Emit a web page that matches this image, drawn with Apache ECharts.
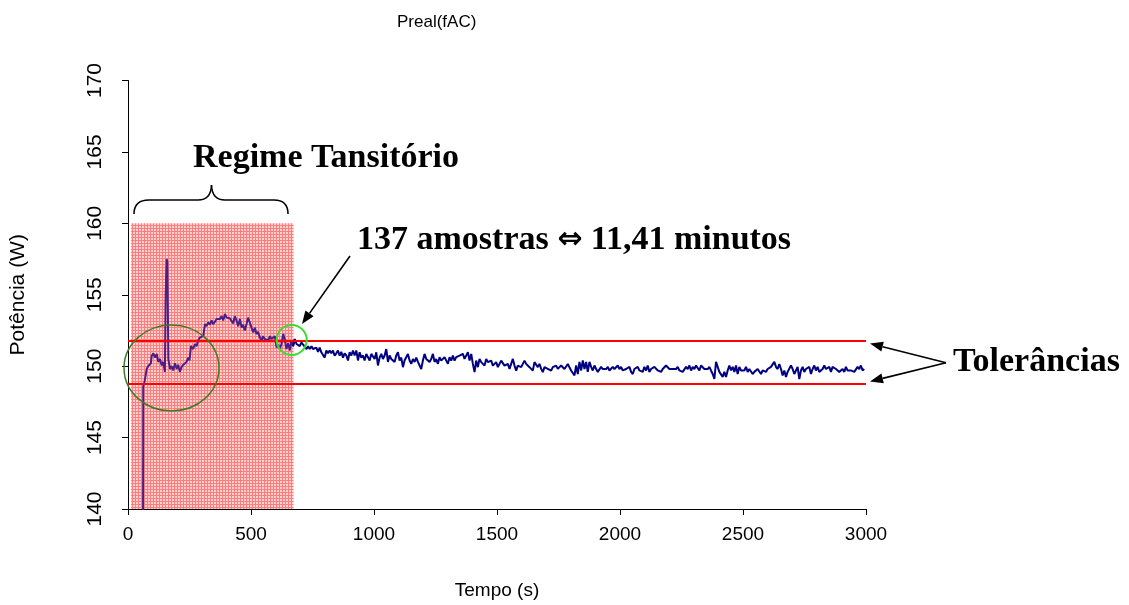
<!DOCTYPE html>
<html>
<head>
<meta charset="utf-8">
<title>Preal(fAC)</title>
<script src="https://cdn.jsdelivr.net/npm/echarts@6/dist/echarts.min.js"></script>
<style>
  html, body { margin: 0; background: #fff; }
  #main { width: 1129px; height: 605px; }
</style>
</head>
<body>
<div id="main"></div>
<script>
// eixos
const xTicks = [0, 500, 1000, 1500, 2000, 2500, 3000]
const yTicks = [140, 145, 150, 155, 160, 165, 170]

// regime transitorio (tempo em s, potencia em W)
const tempoTransitorio = [61, 62, 66, 72, 76, 82, 93, 96, 103, 110, 117, 123, 130, 137, 143, 150, 153, 157, 160, 164,
  171, 177, 184, 191, 198, 204, 211, 218, 225, 231, 238, 245, 250, 256, 265, 272, 279, 285, 292, 299,
  306, 313, 319, 326, 333, 340, 346, 353, 360, 367, 374, 380, 387, 394, 401, 407, 414, 421, 428, 434,
  441, 448, 455, 462, 468, 475, 482, 488, 495, 502, 509, 516, 522, 529, 536, 543, 549, 556, 563, 570,
  577, 583, 590, 597, 604, 610, 617, 624, 631, 637, 644, 651, 658, 664, 671, 678, 685, 691, 698, 705,
  712, 719, 726, 732, 739, 746]
const potenciaTransitorio = [138, 148.6, 148.8, 148.9, 149.8, 150.0, 150.2, 150.7, 150.9, 150.6, 150.85, 150.3, 150.5, 150.05, 150.3, 149.6, 154.9, 157.5, 157.3, 150.5,
  149.8, 150.0, 149.7, 150.2, 149.8, 150.1, 149.6, 149.95, 150.1, 150.2, 150.3, 150.6, 150.4, 151.4, 151.2, 151.55, 151.4, 151.8, 152.0, 151.9,
  152.1, 152.95, 152.8, 153.07, 152.9, 153.2, 152.95, 153.1, 153.3, 153.2, 153.3, 153.5, 153.2, 153.65, 153.4, 153.5, 153.35, 153.3, 153.0, 153.5,
  153.2, 152.8, 153.3, 152.7, 152.9, 152.5, 152.95, 153.4, 153.07, 152.7, 152.37, 152.7, 152.25, 152.4, 152.0, 151.8, 152.1, 151.9, 152.0, 151.8,
  152.1, 151.9, 152.0, 152.1, 151.3, 151.5, 151.2, 151.55, 152.25, 151.9, 151.2, 151.6, 151.1, 151.8, 151.4, 151.9, 151.55, 151.55, 151.4, 151.67,
  151.5, 151.55, 151.2, 151.4, 151.2, 151.4]

// regime estavel: amostras igualmente espacadas a partir de 752 s
const inicioEstavel = 752
const passoEstavel = 6.77
const potenciaEstavel = [
  151.2, 151.3, 151.3, 151.0, 151.3, 150.97, 151.1, 150.6, 151.1, 150.9,
  151.1, 150.9, 151.1, 150.74, 150.9, 151.1, 150.74, 151.0, 150.6, 150.9,
  150.75, 150.4, 150.97, 150.75, 151.1, 150.75, 151.1, 150.4, 150.97, 150.6,
  150.75, 150.4, 150.86, 150.97, 150.4, 150.86, 150.75, 150.5, 150.97, 150.05,
  150.6, 150.86, 150.5, 150.75, 151.2, 150.3, 150.75, 150.5, 150.6, 150.3,
  150.75, 150.97, 150.4, 150.6, 149.93, 150.4, 150.5, 150.86, 150.4, 150.16,
  150.5, 150.3, 150.6, 150.3, 150.4, 149.8, 150.4, 150.86, 150.5, 150.6,
  150.3, 150.5, 150.86, 150.3, 150.5, 150.16,
  150.63, 150.39, 150.28, 150.63, 150.51, 150.16, 150.63, 150.39, 150.74, 150.39,
  150.63, 150.51, 150.74, 150.63, 150.86, 150.51, 150.74, 150.97, 150.39, 150.86,
  150.16, 149.58, 150.39, 149.93, 150.51, 150.28, 150.39, 150.04, 150.51, 150.28,
  150.16, 150.39, 150.04, 150.16, 150.28, 149.93, 150.04, 150.39, 150.28, 150.04,
  149.93, 150.16, 149.81, 150.16, 150.51, 150.04, 149.69, 150.04, 150.16, 149.93,
  150.04, 150.39, 150.16, 150.28, 149.93, 150.04, 149.69, 150.28, 150.16, 149.93,
  150.16, 149.81, 149.58, 149.93, 150.04, 149.81, 149.93, 149.69, 149.93, 149.81,
  150.04, 149.81, 149.93,
  150.05, 150.05, 149.8, 149.8, 150.15, 150.15, 149.7, 149.7, 149.35, 150.05,
  149.45, 150.3, 149.7, 150.4, 149.8, 150.3, 149.6, 150.3, 149.95, 149.7,
  150.05, 149.8, 149.6, 149.7, 149.95, 149.8, 149.7, 149.8, 149.95, 149.7,
  149.8, 149.95, 149.8, 149.7, 150.05, 149.8, 149.95, 149.7, 149.6, 149.8,
  149.7, 149.95, 149.6, 149.45, 149.8, 149.7, 149.95, 149.7, 149.8, 149.6,
  149.95, 149.7, 150.05, 149.6, 149.8, 149.7, 149.95, 150.05, 149.7, 149.8,
  149.6, 149.8, 149.7, 150.05, 149.95, 149.8, 149.7, 149.8, 149.7, 149.8,
  149.95, 149.7, 149.8, 149.6, 149.7, 149.95, 149.8, 150.05, 149.7, 149.95,
  149.8, 150.05, 149.95, 149.7, 150.05, 149.95, 149.8, 149.7, 149.8, 149.95,
  149.7, 149.45, 149.1, 150.3, 149.95, 149.6, 149.7, 149.25, 149.6, 149.25,
  149.7, 150.05, 149.7, 149.95, 149.6, 150.05, 149.45, 149.95, 149.7, 149.8,
  149.7, 149.95, 149.6, 149.8, 149.7, 149.45, 149.6, 149.7, 149.8, 149.7,
  149.45, 149.7, 149.8, 149.6, 149.8, 149.7, 149.95, 150.05, 150.3, 149.95,
  149.8, 150.15, 149.8, 149.35, 149.7, 149.25, 149.6, 149.7, 150.05, 149.8,
  149.45, 149.7, 149.95, 149.1, 149.7, 149.95, 149.6, 149.8, 149.7, 149.95,
  149.45, 149.8, 150.05, 149.7, 149.95, 149.6, 149.7, 149.8, 150.05, 149.8,
  149.7, 149.95, 149.6, 149.95, 150.05, 149.8, 149.7, 149.6, 149.7, 149.8,
  149.6, 149.95, 149.7, 149.6, 149.7, 149.8, 149.6, 149.7, 149.95, 149.8,
  150.05, 149.7, 149.8]

// faixa de tolerancia e zona do regime transitorio
const toleranciaSup = 151.75
const toleranciaInf = 148.8
const zonaTransitorio = [12, 673]
const zonaTopo = 160

const dados = tempoTransitorio.map((t, i) => [t, potenciaTransitorio[i]])
potenciaEstavel.forEach((p, i) => dados.push([+(inicioEstavel + i * passoEstavel).toFixed(1), p]))

// a linha dentro da zona rosa aparece arroxeada
const corte = dados.findIndex(d => d[0] > zonaTransitorio[1])
const dadosDentro = dados.slice(0, corte + 1)
const dadosFora = dados.slice(corte - 1)

// padrao quadriculado rosa da zona transitoria
function padraoGrade() {
  const c = document.createElement('canvas')
  c.width = 3
  c.height = 3
  const ctx = c.getContext('2d')
  ctx.fillStyle = '#ffd2d2'
  ctx.fillRect(0, 0, 3, 3)
  ctx.fillStyle = '#ff7d7d'
  ctx.fillRect(0, 0, 3, 1)
  ctx.fillRect(0, 0, 1, 3)
  return c
}

function seta(x1, y1, x2, y2) {
  const len = Math.hypot(x2 - x1, y2 - y1)
  const ux = (x2 - x1) / len, uy = (y2 - y1) / len
  const bx = x2 - ux * 13, by = y2 - uy * 13
  return [
    { type: 'line', shape: { x1: x1, y1: y1, x2: bx, y2: by }, style: { stroke: '#000', lineWidth: 1.6 } },
    { type: 'polygon', shape: { points: [[x2, y2], [bx - uy * 5, by + ux * 5], [bx + uy * 5, by - ux * 5]] }, style: { fill: '#000' } }
  ]
}

const serifa = '"Liberation Serif", "Times New Roman", serif'
const fonteNegrito = 'bold 34px ' + serifa

var myChart = echarts.init(document.getElementById('main'))

var option = {
  backgroundColor: '#fff',
  animation: false,
  title: {
    text: 'Preal(fAC)',
    left: 392,
    top: 9,
    textStyle: { fontFamily: 'Liberation Sans, Arial', fontSize: 17, fontWeight: 'normal', color: '#000' }
  },
  grid: { left: 128, right: 263, top: 80.5, bottom: 94 },
  xAxis: {
    type: 'value',
    min: xTicks[0],
    max: xTicks[xTicks.length - 1],
    interval: xTicks[1] - xTicks[0],
    name: 'Tempo (s)',
    nameLocation: 'middle',
    nameGap: 72,
    nameTextStyle: { fontFamily: 'Liberation Sans, Arial', fontSize: 19, color: '#000' },
    axisLine: { lineStyle: { color: '#000', width: 1 } },
    axisTick: { length: 6, lineStyle: { color: '#000' } },
    axisLabel: { margin: 16, fontFamily: 'Liberation Sans, Arial', fontSize: 19, color: '#000', formatter: v => String(v) },
    splitLine: { show: false }
  },
  yAxis: {
    type: 'value',
    min: yTicks[0],
    max: yTicks[yTicks.length - 1],
    interval: yTicks[1] - yTicks[0],
    name: 'Potência (W)',
    nameLocation: 'middle',
    nameRotate: 90,
    nameGap: 99,
    nameTextStyle: { fontFamily: 'Liberation Sans, Arial', fontSize: 21, color: '#000' },
    axisLine: { show: true, lineStyle: { color: '#000', width: 1 } },
    axisTick: { show: true, length: 6, lineStyle: { color: '#000' } },
    axisLabel: { rotate: 90, margin: 22, fontFamily: 'Liberation Sans, Arial', fontSize: 21, color: '#000' },
    splitLine: { show: false }
  },
  series: [
    {
      name: 'Preal(fAC)',
      type: 'line',
      z: 3,
      data: dadosDentro,
      showSymbol: false,
      symbol: 'none',
      lineStyle: { width: 2, color: '#4a1f88' }
    },
    {
      name: 'Preal(fAC) estável',
      type: 'line',
      z: 3,
      data: dadosFora,
      showSymbol: false,
      symbol: 'none',
      lineStyle: { width: 2, color: '#000080' }
    },
    {
      type: 'line',
      z: 1,
      data: [],
      markArea: {
        silent: true,
        itemStyle: { color: { image: padraoGrade(), repeat: 'repeat' } },
        data: [[{ coord: [zonaTransitorio[0], yTicks[0]] }, { coord: [zonaTransitorio[1], zonaTopo] }]]
      }
    },
    {
      type: 'line',
      z: 5,
      data: [],
      markLine: {
        silent: true,
        symbol: 'none',
        label: { show: false },
        lineStyle: { color: '#ff0000', width: 2, type: 'solid' },
        data: [
          [{ coord: [xTicks[0], toleranciaSup] }, { coord: [xTicks[xTicks.length - 1], toleranciaSup] }],
          [{ coord: [xTicks[0], toleranciaInf] }, { coord: [xTicks[xTicks.length - 1], toleranciaInf] }]
        ]
      }
    }
  ],
  graphic: [
    // chaveta sobre a zona transitoria
    { type: 'bezierCurve', shape: { x1: 134, y1: 214, cpx1: 134, cpy1: 200, x2: 149, y2: 200 }, style: { stroke: '#000', lineWidth: 1.5, fill: null } },
    { type: 'line', shape: { x1: 149, y1: 200, x2: 198, y2: 200 }, style: { stroke: '#000', lineWidth: 1.5 } },
    { type: 'bezierCurve', shape: { x1: 198, y1: 200, cpx1: 211, cpy1: 200, x2: 211.5, y2: 185 }, style: { stroke: '#000', lineWidth: 1.5, fill: null } },
    { type: 'bezierCurve', shape: { x1: 211.5, y1: 185, cpx1: 212, cpy1: 200, x2: 225, y2: 200 }, style: { stroke: '#000', lineWidth: 1.5, fill: null } },
    { type: 'line', shape: { x1: 225, y1: 200, x2: 274, y2: 200 }, style: { stroke: '#000', lineWidth: 1.5 } },
    { type: 'bezierCurve', shape: { x1: 274, y1: 200, cpx1: 288, cpy1: 200, x2: 288, y2: 214 }, style: { stroke: '#000', lineWidth: 1.5, fill: null } },
    { type: 'text', style: { text: 'Regime Tansitório', x: 193, y: 158, font: fonteNegrito, fill: '#000', textVerticalAlign: 'middle' } },
    {
      type: 'text',
      style: {
        text: '{a|137 amostras }{b|⇔}{a| 11,41 minutos}',
        x: 357, y: 240, fill: '#000', textVerticalAlign: 'middle',
        rich: {
          a: { fontFamily: serifa, fontWeight: 'bold', fontSize: 34, fill: '#000' },
          b: { fontFamily: 'DejaVu Sans', fontWeight: 'bold', fontSize: 30, fill: '#000' }
        }
      }
    },
    { type: 'text', style: { text: 'Tolerâncias', x: 953, y: 362, font: fonteNegrito, fill: '#000', textVerticalAlign: 'middle' } },
    // circulos de destaque
    { type: 'ellipse', z: 10, shape: { cx: 171.5, cy: 368, rx: 47.5, ry: 43 }, style: { stroke: '#3a7d26', lineWidth: 1.5, fill: null } },
    { type: 'circle', z: 10, shape: { cx: 291.7, cy: 340, r: 15 }, style: { stroke: '#33dd33', lineWidth: 2, fill: null } }
  ].concat(seta(350, 256, 302, 324), seta(946, 362.7, 870, 343.5), seta(946, 362.7, 870, 381.5))
}

myChart.setOption(option)
</script>
</body>
</html>
